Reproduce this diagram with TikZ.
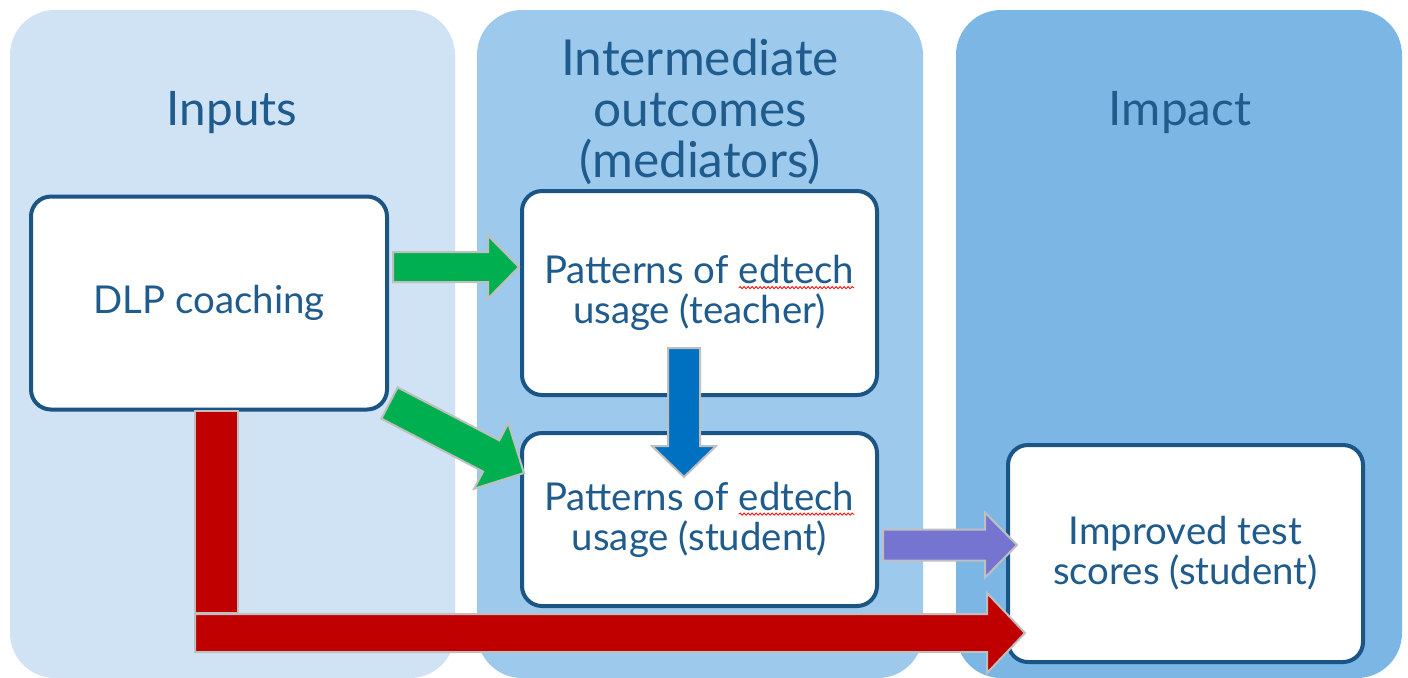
\documentclass[tikz,border=0pt]{standalone}
\usepackage{fontspec}
\setmainfont{Lato}
\usetikzlibrary{calc,decorations.pathmorphing}

\definecolor{panelA}{HTML}{CFE3F4}
\definecolor{panelB}{HTML}{9DCAEC}
\definecolor{panelC}{HTML}{7BB6E4}
\definecolor{boxline}{HTML}{1B5585}
\definecolor{inktext}{HTML}{1F5B8C}
\definecolor{arrowedge}{HTML}{BFBFBF}
\definecolor{goGreen}{HTML}{00B050}
\definecolor{goBlue}{HTML}{0070C0}
\definecolor{goPurple}{HTML}{7574D0}
\definecolor{goRed}{HTML}{C00000}

% block arrow from #1 to #2: shaft half width #3, head half width #4,
% head length #5, fill colour #6
\newcommand\blockarrow[6]{%
  \coordinate (ba-h) at ($(#2)!#5!(#1)$);
  \filldraw[arrowbody, fill=#6]
    ($(#1)!#3!90:(#2)$) -- ($(ba-h)!#3!90:(#2)$) -- ($(ba-h)!#4!90:(#2)$) -- (#2)
    -- ($(ba-h)!#4!-90:(#2)$) -- ($(ba-h)!#3!-90:(#2)$) -- ($(#1)!#3!-90:(#2)$) -- cycle;
}

% word with a red wavy underline
\newcommand\wavyword[1]{\tikz[baseline=(sw.base)]{%
  \node[draw=none, fill=none, inner sep=0pt, outer sep=0pt, anchor=base,
        minimum width=0pt, minimum height=0pt, rounded corners=0pt] (sw) {#1};
  \draw[draw=red, line width=0.4pt, sharp corners, decorate,
        decoration={snake, amplitude=0.55pt, segment length=2pt}]
    ([yshift=-2pt]sw.base west) -- ([yshift=-2pt]sw.base east);}}

\begin{document}
\begin{tikzpicture}[x=0.5pt,y=-0.5pt,
  panel/.style={rounded corners=22.5pt},
  stage/.style={font=\fontsize{23.8}{25}\selectfont, text=inktext, align=center, inner sep=0pt},
  box/.style={draw=boxline, line width=2pt, fill=white, rounded corners=10pt,
              align=center, text=inktext, font=\fontsize{19.2}{20}\selectfont, inner sep=0pt},
  arrowbody/.style={draw=arrowedge, line width=1pt, line join=miter},
]
\useasboundingbox (0,0) rectangle (1408,677);
\fill[white] (0,0) rectangle (1408,677);

% stage panels
\fill[panelA, panel] (10,10) rectangle (455,678);
\fill[panelB, panel] (477,10) rectangle (923,678);
\fill[panelC, panel] (956,10) rectangle (1402,678);

% stage titles
\node[stage, anchor=base] (hin) at (232,125) {Inputs};
\node[stage, font=\fontsize{24.8}{25.5}\selectfont] (hmid) at (700,112) {Intermediate\\outcomes\\(mediators)};
\node[stage, anchor=base] (himp) at (1180,125) {Impact};

% boxes
\node[box, minimum width=178pt, minimum height=106.5pt] (dlp) at (209,303) {DLP coaching};
\node[box, minimum width=177.5pt, minimum height=102pt] (teacher) at (699.5,293)
  {Patterns of \wavyword{edtech}\\usage (teacher)};
\node[box, minimum width=177.5pt, minimum height=86.5pt] (student) at (699.5,519.5)
  {Patterns of \wavyword{edtech}\\usage (student)};
\node[box, minimum width=177.5pt, minimum height=108.5pt] (scores) at (1185.5,553.5)
  {Improved test\\scores (student)};

% arrow end points
\coordinate (g1s) at (393,267);   \coordinate (g1e) at (519,267);
\coordinate (g2s) at (389.5,403); \coordinate (g2e) at (524,473);
\coordinate (bls) at (684,348);   \coordinate (ble) at (684,477);
\coordinate (pus) at (883,545);   \coordinate (pue) at (1017,545);
\coordinate (rds) at (195,633);   \coordinate (rde) at (1025,633);

% arrows
\blockarrow{g1s}{g1e}{7.5pt}{15.75pt}{15.5pt}{goGreen}
\blockarrow{g2s}{g2e}{8.8pt}{18.5pt}{18.5pt}{goGreen}
\blockarrow{bls}{ble}{8pt}{16pt}{15.5pt}{goBlue}
\blockarrow{pus}{pue}{7.75pt}{16.25pt}{16pt}{goPurple}
\filldraw[arrowbody, fill=goRed] (195,411) rectangle (238,613);
\blockarrow{rds}{rde}{9.5pt}{20pt}{19pt}{goRed}
\end{tikzpicture}
\end{document}
